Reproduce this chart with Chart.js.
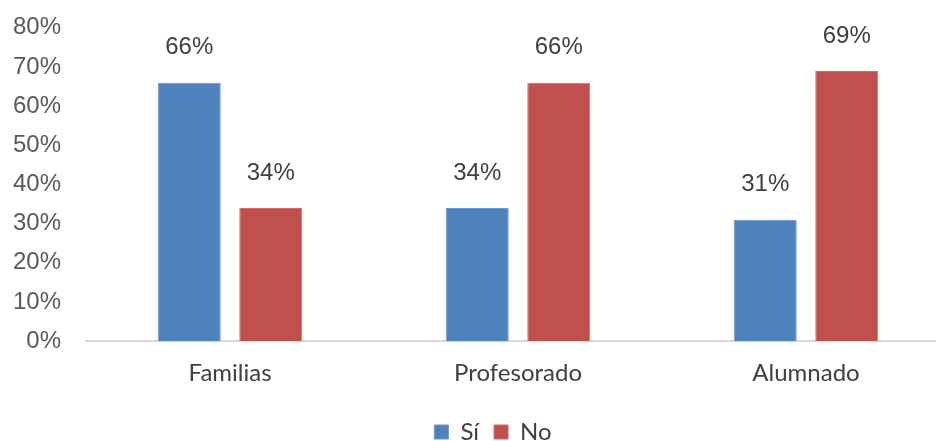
<!DOCTYPE html>
<html>
<head>
<meta charset="utf-8">
<script src="https://cdn.jsdelivr.net/npm/chart.js@4/dist/chart.umd.min.js"></script>
<style>
  html, body { margin: 0; padding: 0; background: #fff; overflow: hidden; }
  #wrap { width: 950px; height: 441px; }
</style>
</head>
<body>
<div id="wrap"><canvas id="chart"></canvas></div>
<script>
const categories = ['Familias', 'Profesorado', 'Alumnado'];
const siValues = [66, 34, 31];
const noValues = [34, 66, 69];
const yTicks = [0, 10, 20, 30, 40, 50, 60, 70, 80];

// labels above each bar, like Excel data labels
const barLabels = {
  id: 'barLabels',
  afterLayout(chart) {
    // the legend sits a bit right of centre in the original
    chart.legend.left += 20;
    chart.legend.right += 20;
  },
  afterDatasetsDraw(chart) {
    const ctx = chart.ctx;
    ctx.save();
    ctx.font = '24px "Liberation Sans", Arial, sans-serif';
    ctx.fillStyle = '#404040';
    ctx.textAlign = 'center';
    ctx.textBaseline = 'middle';
    chart.data.datasets.forEach((ds, i) => {
      chart.getDatasetMeta(i).data.forEach((bar, j) => {
        ctx.fillText(ds.data[j] + '%', bar.x, bar.y - 35);
      });
    });
    ctx.restore();
  }
};

new Chart(document.getElementById('chart'), {
  type: 'bar',
  data: {
    labels: categories,
    datasets: [
      { label: 'Sí', data: siValues, backgroundColor: '#4F81BD', borderColor: '#6d97c9', borderWidth: 1,
        categoryPercentage: 0.566, barPercentage: 0.773 },
      { label: 'No', data: noValues, backgroundColor: '#C0504D', borderColor: '#cf6e6b', borderWidth: 1,
        categoryPercentage: 0.566, barPercentage: 0.773 }
    ]
  },
  options: {
    responsive: true,
    maintainAspectRatio: false,
    animation: false,
    layout: { padding: { top: -5, left: -4, right: 0, bottom: -13 } },
    scales: {
      y: {
        min: 0,
        max: 80,
        afterBuildTicks: (axis) => { axis.ticks = yTicks.map(v => ({ value: v })); },
        grid: { display: false },
        border: { display: false },
        ticks: {
          padding: 17,
          color: '#595959',
          font: { family: '"Liberation Sans", Arial, sans-serif', size: 24, lineHeight: 0.9 },
          callback: (v) => v + '%'
        }
      },
      x: {
        grid: { display: false },
        border: { display: true, color: '#d9d9d9', width: 2 },
        afterFit: (axis) => { axis.height += 7; },
        ticks: {
          padding: 10,
          color: '#404040',
          font: { family: 'Lato, "Open Sans", sans-serif', size: 24 }
        }
      }
    },
    plugins: {
      legend: {
        position: 'bottom',
        labels: {
          boxWidth: 14,
          boxHeight: 14,
          padding: 15,
          color: '#404040',
          font: { family: 'Lato, "Open Sans", sans-serif', size: 24 }
        }
      },
      tooltip: { enabled: false }
    }
  },
  plugins: [barLabels]
});
</script>
</body>
</html>
